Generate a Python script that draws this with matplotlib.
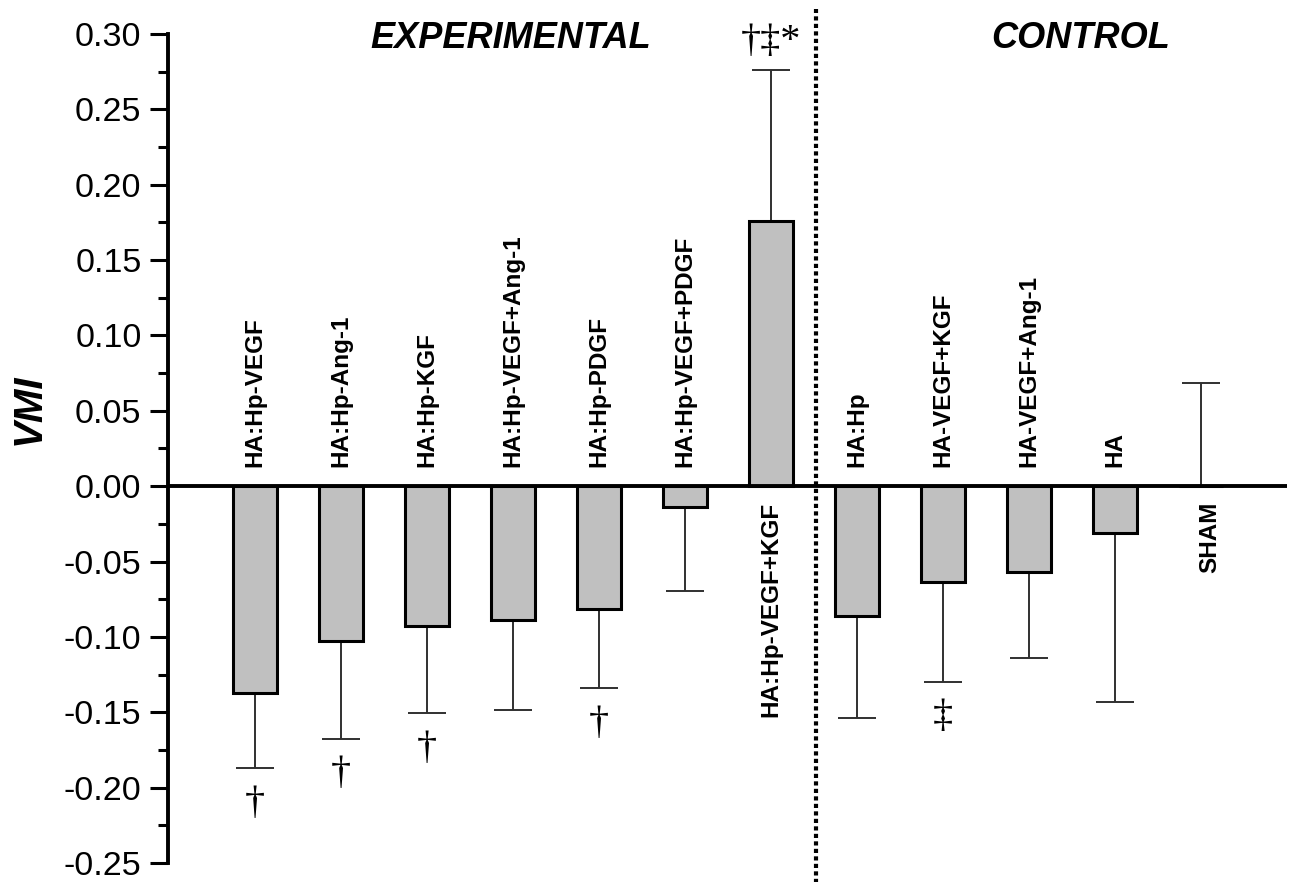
import numpy as np
import matplotlib
matplotlib.use("Agg")
import matplotlib.pyplot as plt
from matplotlib.ticker import MultipleLocator, FormatStrFormatter

plt.rcParams['font.family'] = ['Liberation Sans', 'DejaVu Sans']

groups = ['HA:Hp-VEGF', 'HA:Hp-Ang-1', 'HA:Hp-KGF', 'HA:Hp-VEGF+Ang-1', 'HA:Hp-PDGF',
          'HA:Hp-VEGF+PDGF', 'HA:Hp-VEGF+KGF', 'HA:Hp', 'HA-VEGF+KGF', 'HA-VEGF+Ang-1',
          'HA', 'SHAM']
vmi = [-0.1374, -0.1030, -0.0925, -0.0885, -0.0814, -0.0140, 0.1760, -0.0860,
       -0.0636, -0.0572, -0.0312, 0.0]
sd = [0.0496, 0.0645, 0.0581, 0.0602, 0.0526, 0.0555, 0.1000, 0.0675,
      0.0661, 0.0568, 0.1118, 0.0684]
marks = {0: '\u2020', 1: '\u2020', 2: '\u2020', 4: '\u2020', 6: '\u2020\u2021*', 8: '\u2021'}

x = np.arange(len(groups))
vmi = np.array(vmi)
sd = np.array(sd)
up = vmi >= 0
err = np.vstack([np.where(up, 0, sd), np.where(up, sd, 0)])

fig = plt.figure(figsize=(12.96, 8.82), dpi=100)
ax = fig.add_axes([0.1296, 0.0215, 0.8634, 0.9400])

ax.bar(x, vmi, width=0.51, color='#c0c0c0', edgecolor='black', linewidth=2.2, zorder=2)
ax.errorbar(x, vmi, yerr=err, fmt='none', ecolor='#303030', elinewidth=1.4,
            capsize=14, capthick=1.4, zorder=1)
ax.axhline(0, color='black', linewidth=2.8, zorder=3)

# dotted separator between experimental and control groups
ax.axvline(6.53, ymin=-0.025, ymax=1.03, color='black', linestyle=(0, (1, 0.8)),
           linewidth=3.0, clip_on=False)

for i, name in enumerate(groups):
    if vmi[i] > 0 or name == 'SHAM':
        ax.text(x[i] + (0.1 if name == 'SHAM' else 0), -0.010, name, rotation=90,
                ha='center', va='top', fontsize=17.5, fontweight='bold')
    else:
        ax.text(x[i], 0.013, name, rotation=90, ha='center', va='bottom',
                fontsize=17.5, fontweight='bold')

for i, m in marks.items():
    if vmi[i] > 0:
        ax.text(x[i], vmi[i] + sd[i] + 0.007, m, ha='center', va='bottom',
                fontsize=29, family=['Liberation Serif', 'DejaVu Serif'])
    else:
        ax.text(x[i], vmi[i] - sd[i] - 0.011, m, ha='center', va='top',
                fontsize=29, family=['Liberation Serif', 'DejaVu Serif'])

ax.text(2.97, 0.297, 'EXPERIMENTAL', ha='center', va='center', fontsize=26,
        fontweight='bold', fontstyle='italic')
ax.text(9.6, 0.297, 'CONTROL', ha='center', va='center', fontsize=26,
        fontweight='bold', fontstyle='italic')

fig.text(29 / 1296, 1 - 409 / 882, 'VMI', rotation=90, ha='center', va='center',
         fontsize=29, fontweight='bold', fontstyle='italic')

ax.set_xlim(-1.01, 12.0)
ax.set_ylim(-0.25, 0.30)
ax.yaxis.set_major_locator(MultipleLocator(0.05))
ax.yaxis.set_minor_locator(MultipleLocator(0.025))
ax.yaxis.set_major_formatter(FormatStrFormatter('%.2f'))
ax.tick_params(axis='y', which='major', length=13, width=2.2, labelsize=24.5, pad=6)
ax.tick_params(axis='y', which='minor', length=7, width=2.2)
ax.set_xticks([])
for s in ['top', 'right', 'bottom']:
    ax.spines[s].set_visible(False)
ax.spines['left'].set_linewidth(2.8)

fig.savefig('out.png', dpi=100)
